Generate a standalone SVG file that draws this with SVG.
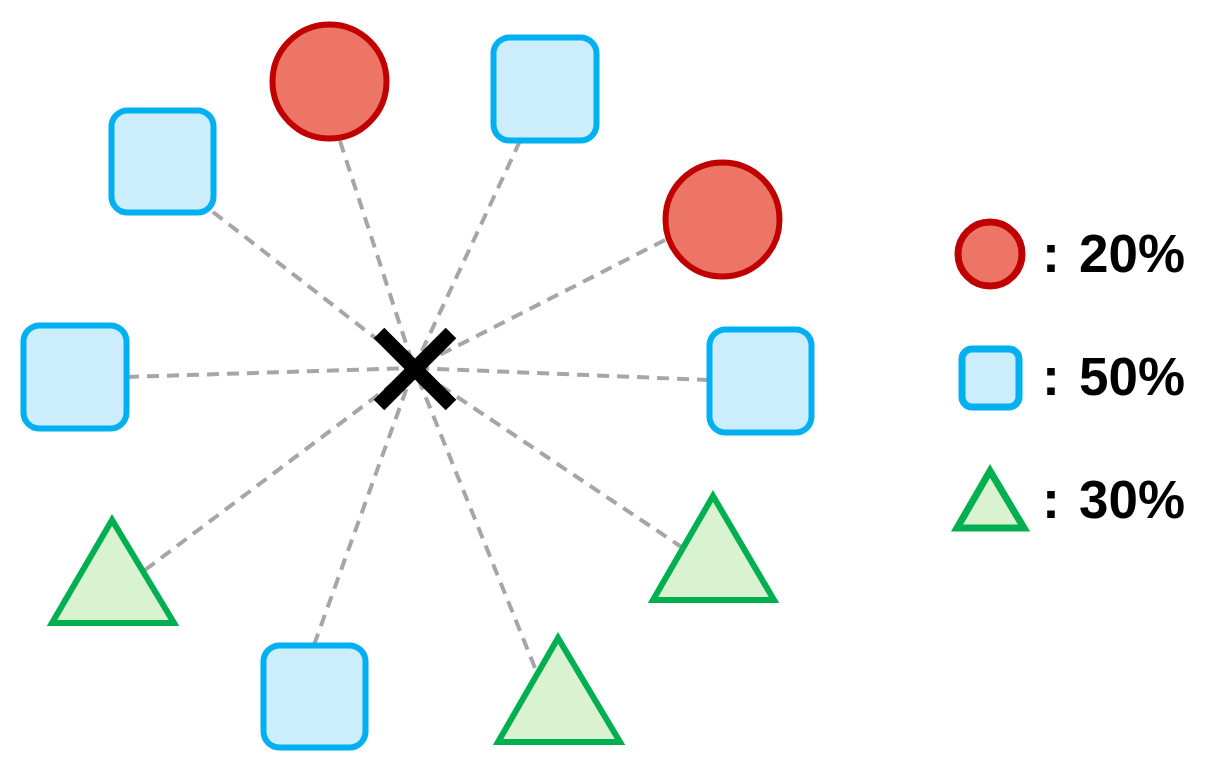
<svg xmlns="http://www.w3.org/2000/svg" width="1212" height="776" viewBox="0 0 1212 776">
<style>
.sq{fill:#CCEEFC;stroke:#00B0F0;stroke-width:6}
.ci{fill:#ED7565;stroke:#C00000;stroke-width:6}
.tr{fill:#D9F2D0;stroke:#00B050;stroke-width:6}
.ln{stroke:#A6A6A6;stroke-width:4;stroke-dasharray:12 8;fill:none}
.tx{font-family:"Liberation Sans",Arial,sans-serif;font-weight:bold;font-size:54px;fill:#000}
</style>
<rect width="1212" height="776" fill="#fff"/>
<g id="connectors">
<line class="ln" x1="213" y1="212" x2="414" y2="368"/>
<line class="ln" x1="340" y1="141" x2="414" y2="368"/>
<line class="ln" x1="520" y1="141" x2="414" y2="368"/>
<line class="ln" x1="665" y1="240" x2="414" y2="368"/>
<line class="ln" x1="127" y1="377" x2="414" y2="368"/>
<line class="ln" x1="709" y1="380" x2="414" y2="368"/>
<line class="ln" x1="145" y1="570" x2="414" y2="368"/>
<line class="ln" x1="314" y1="645" x2="414" y2="368"/>
<line class="ln" x1="535" y1="668" x2="414" y2="368"/>
<line class="ln" x1="683" y1="548" x2="414" y2="368"/>
</g>
<g id="center">
<line x1="379" y1="333" x2="451" y2="405" stroke="#000" stroke-width="15"/>
<line x1="451" y1="333" x2="379" y2="405" stroke="#000" stroke-width="15"/>
</g>
<g id="sq1"><rect class="sq" x="111.5" y="110.5" width="102" height="102" rx="16"/></g>
<g id="ci1"><circle class="ci" cx="329.5" cy="81.5" r="57"/></g>
<g id="sq2"><rect class="sq" x="493.5" y="37.5" width="103" height="103" rx="16"/></g>
<g id="ci2"><circle class="ci" cx="722.5" cy="219.5" r="57"/></g>
<g id="sq3"><rect class="sq" x="23.5" y="325.5" width="103" height="103" rx="16"/></g>
<g id="sq4"><rect class="sq" x="709.5" y="329.5" width="102" height="103" rx="16"/></g>
<g id="tr1"><polygon class="tr" points="112,520 52,623 174,623"/></g>
<g id="tr2"><polygon class="tr" points="713,496 653,600 774,600"/></g>
<g id="sq5"><rect class="sq" x="263.5" y="645.5" width="102" height="102" rx="16"/></g>
<g id="tr3"><polygon class="tr" points="558,638 498,742 620,742"/></g>
<g id="legend">
<circle class="ci" cx="990" cy="254" r="32" style="stroke-width:7"/>
<rect class="sq" x="962" y="349" width="57" height="58" rx="10" style="stroke-width:7"/>
<polygon class="tr" points="990,471 957,528 1024,528" style="stroke-width:7"/>
<text class="tx" x="1042" y="272">:</text><text class="tx" x="1079" y="272" textLength="106" lengthAdjust="spacingAndGlyphs">20%</text>
<text class="tx" x="1042" y="395">:</text><text class="tx" x="1079" y="395" textLength="106" lengthAdjust="spacingAndGlyphs">50%</text>
<text class="tx" x="1042" y="518">:</text><text class="tx" x="1079" y="518" textLength="106" lengthAdjust="spacingAndGlyphs">30%</text>
</g>
</svg>
